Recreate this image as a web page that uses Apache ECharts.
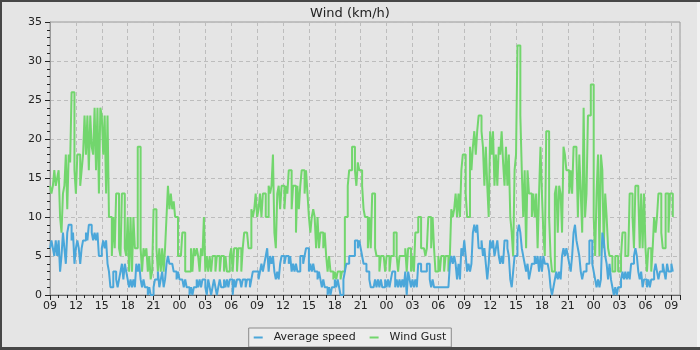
<!DOCTYPE html>
<html><head><meta charset="utf-8">
<script src="https://cdn.jsdelivr.net/npm/echarts@6/dist/echarts.min.js"></script>
<style>html,body{margin:0;padding:0;background:#e5e5e5}#c{width:700px;height:350px}</style>
</head><body><div id="c"></div>
<script>
// one sample every 10 minutes, starting at 09:00 on day 1 (one row = one hour)
const stepHours = 1 / 6;
const tickLabels = ['09','12','15','18','21','00','03','06','09','12','15','18','21','00','03','06','09','12','15','18','21','00','03','06','09'];
const seriesNames = ['Average speed', 'Wind Gust'];
const avgSpeed = [
  6,7,6,5,7,5,  7,3,5,8,6,4,  8,9,9,7,8,4,  6,7,6,4,6,7,  7,8,7,9,9,8,  7,8,7,8,5,5,
  6,7,6,7,4,3,  1,1,3,3,2,1,  2,3,4,2,4,3,  2,1,2,1,2,1,  4,3,4,2,1,2,  1,1,0,1,0,0,
  1,2,2,3,1,2,  3,1,2,4,5,4,  4,4,3,3,2,3,  2,2,2,1,2,1,  1,0,1,0,1,1,  2,1,2,1,2,2,
  1,0,2,1,0,1,  2,1,0,1,2,1,  1,2,1,2,1,2,  2,0,2,1,2,2,  2,1,2,2,1,2,  2,1,2,3,3,3,
  3,2,3,4,3,4,  5,6,3,5,4,5,  3,2,3,2,4,5,  5,4,5,5,4,5,  3,4,3,4,3,3,  5,5,4,5,6,6,
  3,4,3,4,3,3,  2,3,2,1,2,1,  1,0,1,0,1,1,  2,1,2,1,0,0,  2,3,4,4,5,5,  5,5,7,7,6,7,
  6,5,4,4,3,3,  2,1,1,1,2,1,  2,1,2,1,1,2,  1,2,1,2,3,3,  1,2,1,2,1,2,  1,3,0,3,2,1,
  2,1,2,1,4,4,  3,3,3,3,4,4,  2,1,2,1,1,1,  1,1,1,1,1,1,  1,1,4,5,4,5,  4,2,4,2,6,5,
  7,5,3,4,3,4,  8,9,8,9,6,6,  7,5,6,4,2,4,  7,6,7,5,6,7,  5,4,5,4,7,7,  6,5,2,1,3,5,
  5,8,9,8,6,5,  4,3,4,2,3,4,  4,5,4,5,3,5,  3,5,4,4,4,3,  1,0,1,2,3,2,  3,2,5,6,5,6,
  5,4,3,5,8,9,  7,6,5,3,2,3,  3,4,4,7,7,4,  3,2,1,2,1,2,  8,7,5,4,2,4,  2,1,0,1,0,1,
  1,2,3,2,3,2,  3,2,4,4,5,6,  5,3,2,3,1,2,  2,1,2,1,2,2,  3,4,3,2,3,3,  4,3,2,4,3,3,
  4,3
];
const windGust = [
  14,13,14,16,14,15,  16,10,8,13,14,18,  11,18,17,26,26,16,  13,18,18,14,16,18,  23,18,23,16,23,19,  18,24,16,24,13,24,
  23,18,23,13,23,10,  10,5,10,6,13,13,  6,5,13,13,6,5,  10,3,10,3,10,6,  6,19,19,6,3,6,  5,6,3,5,2,3,
  11,11,6,3,6,3,  6,3,6,10,14,11,  13,11,12,10,10,5,  5,5,8,8,3,3,  3,3,6,3,6,5,  6,5,3,6,5,10,
  3,5,3,5,3,5,  5,3,5,5,3,5,  5,3,5,3,3,5,  6,3,6,6,3,6,  6,3,6,8,8,8,  6,6,11,10,11,13,
  10,11,13,10,13,13,  10,10,14,13,14,18,  8,6,13,14,11,14,  14,11,14,13,16,16,  11,14,14,8,14,11,  14,16,16,13,16,13,
  10,8,10,11,10,6,  10,6,8,8,6,8,  5,3,5,3,3,2,  3,2,3,3,2,3,  3,10,10,14,16,16,  19,19,16,14,17,16,
  16,14,11,10,10,6,  10,6,13,13,6,5,  5,3,5,5,5,3,  5,5,3,5,5,8,  8,5,3,5,5,5,  5,6,3,6,6,3,
  5,3,8,8,10,10,  6,6,6,5,6,10,  10,6,10,6,3,3,  5,3,5,5,3,5,  5,3,5,11,10,11,  13,10,13,10,16,18,
  18,13,10,10,19,16,  19,21,18,21,23,23,  21,19,14,19,14,10,  21,18,21,14,18,14,  19,18,21,17,14,19,  14,18,10,8,5,16,
  18,32,32,23,16,10,  16,6,16,13,13,10,  13,10,13,6,13,19,  13,8,5,21,21,10,  5,3,3,13,14,8,  14,13,8,19,18,16,
  16,13,16,13,19,19,  18,10,18,13,8,24,  10,13,23,23,27,27,  10,5,13,18,5,18,  16,6,13,10,6,5,  5,3,3,5,5,3,
  3,5,8,8,5,5,  5,13,13,10,6,14,  14,13,6,13,6,13,  6,3,6,6,3,6,  10,8,10,13,13,8,  6,6,13,13,8,13,
  13,10
];

const toPairs = arr => arr.map((v, i) => [i * stepHours, v]);
const font = 'DejaVu Sans';
const chart = echarts.init(document.getElementById('c'), null, { renderer: 'canvas' });
chart.setOption({
  animation: false,
  backgroundColor: '#e5e5e5',
  title: {
    text: 'Wind (km/h)', left: 'center', top: 2,
    textStyle: { fontFamily: font, fontSize: 13, fontWeight: 'normal', color: '#222' }
  },
  legend: {
    data: seriesNames, bottom: 3, left: 'center',
    icon: 'rect', itemWidth: 9, itemHeight: 2, itemGap: 14,
    backgroundColor: '#ececec', borderColor: '#8a8a8a', borderWidth: 1, borderRadius: 0,
    padding: [4, 5, 4, 5],
    textStyle: { fontFamily: font, fontSize: 11, color: '#222', padding: [0, 0, 0, 6] }
  },
  grid: {
    left: 50, right: 20, top: 22, bottom: 55, show: true,
    backgroundColor: '#e5e5e5', borderColor: '#9a9a9a', borderWidth: 1,
    containLabel: false, outerBoundsMode: 'none'
  },
  xAxis: {
    type: 'value', min: 0, max: 73, interval: 3,
    axisLine: { show: true, onZero: false, lineStyle: { color: '#666', width: 1 } },
    axisTick: { show: true, length: 5, lineStyle: { color: '#222' } },
    minorTick: { show: true, splitNumber: 3, length: 3, lineStyle: { color: '#222' } },
    splitLine: { show: true, lineStyle: { color: '#bdbdbd', type: [4, 3] } },
    axisLabel: {
      fontFamily: font, fontSize: 11, color: '#222', margin: 6,
      showMinLabel: true, showMaxLabel: true, hideOverlap: false,
      formatter: v => (Math.abs(v % 3) < 1e-6 ? (tickLabels[Math.round(v / 3)] || '') : '')
    }
  },
  yAxis: {
    type: 'value', min: 0, max: 35, interval: 5,
    axisLine: { show: true, lineStyle: { color: '#9a9a9a', width: 1 } },
    axisTick: { show: true, length: 5, lineStyle: { color: '#222' } },
    minorTick: { show: true, splitNumber: 5, length: 3, lineStyle: { color: '#222' } },
    splitLine: { show: true, lineStyle: { color: '#bdbdbd', type: [4, 3] } },
    axisLabel: { fontFamily: font, fontSize: 11, color: '#222', margin: 8 }
  },
  graphic: [
    { type: 'rect', silent: true, z: 100, shape: { x: 0, y: 0, width: 700, height: 2 }, style: { fill: '#474747' } },
    { type: 'rect', silent: true, z: 100, shape: { x: 0, y: 0, width: 2, height: 350 }, style: { fill: '#474747' } },
    { type: 'rect', silent: true, z: 100, shape: { x: 0, y: 347, width: 700, height: 3 }, style: { fill: '#474747' } },
    { type: 'rect', silent: true, z: 100, shape: { x: 697, y: 2, width: 3, height: 345 }, style: { fill: '#f2f2f2' } }
  ],
  series: [
    {
      name: seriesNames[0], type: 'line', step: 'end', showSymbol: false, z: 4,
      data: toPairs(avgSpeed), color: '#4ba7da',
      lineStyle: { width: 2, color: '#4ba7da' }
    },
    {
      name: seriesNames[1], type: 'line', step: 'end', showSymbol: false, z: 3,
      data: toPairs(windGust), color: '#72d66d',
      lineStyle: { width: 2, color: '#72d66d' }
    }
  ]
});
</script></body></html>
